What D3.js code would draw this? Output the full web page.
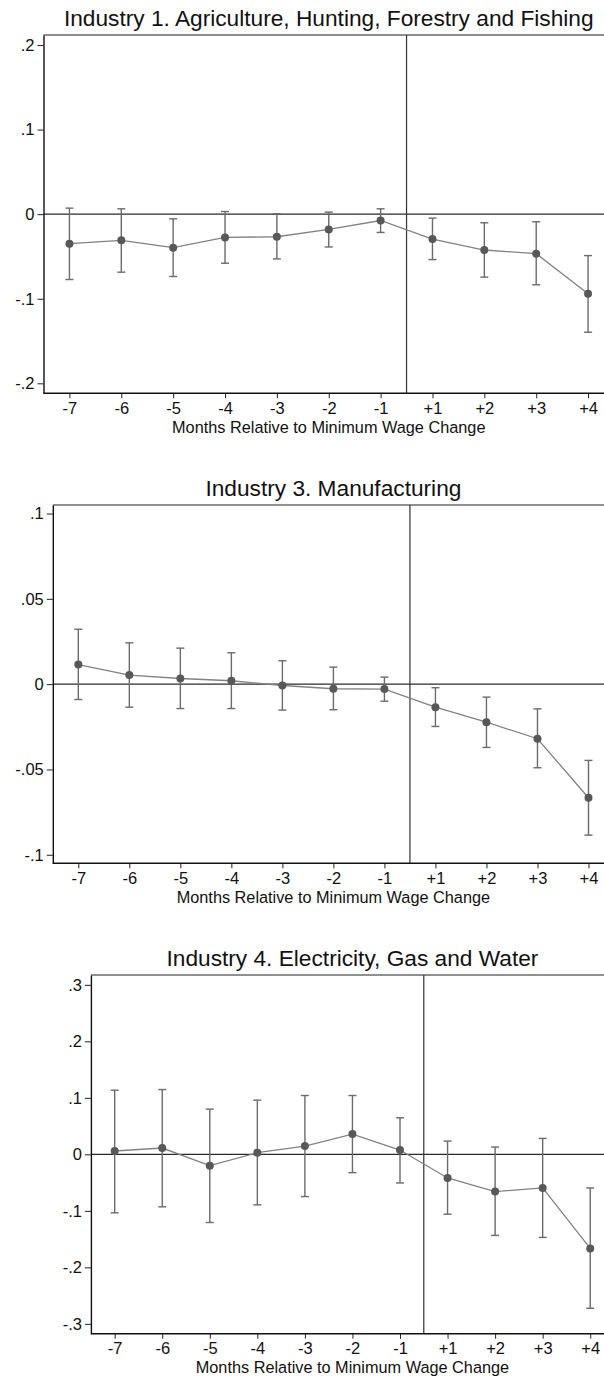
<!DOCTYPE html>
<html>
<head>
<meta charset="utf-8">
<script src="https://cdn.jsdelivr.net/npm/d3@7"></script>
<style>
  html, body { margin: 0; padding: 0; background: #fff; }
  svg { display: block; }
  text { font-family: "Liberation Sans", Arial, sans-serif; fill: #111; }
</style>
</head>
<body>
<svg id="chart" width="604" height="1378"></svg>
<script>
// ---------- data ----------
const months = ["-7", "-6", "-5", "-4", "-3", "-2", "-1", "+1", "+2", "+3", "+4"];
const xTitle = "Months Relative to Minimum Wage Change";

const titles = [
  "Industry 1. Agriculture, Hunting, Forestry and Fishing",
  "Industry 3. Manufacturing",
  "Industry 4. Electricity, Gas and Water"
];

// Industry 1
const ind1Est = [-0.0349, -0.0310, -0.0396, -0.0275, -0.0267, -0.0180, -0.0075, -0.0294, -0.0424, -0.0467, -0.0941];
const ind1Lo  = [-0.0773, -0.0686, -0.0737, -0.0580, -0.0529, -0.0388, -0.0216, -0.0537, -0.0745, -0.0835, -0.1396];
const ind1Hi  = [ 0.0071,  0.0063, -0.0055,  0.0031,  0.0004,  0.0024,  0.0063, -0.0047, -0.0102, -0.0090, -0.0490];
const ind1YTicks = [-0.2, -0.1, 0, 0.1, 0.2];
const ind1YLabels = ["-.2", "-.1", "0", ".1", ".2"];

// Industry 3
const ind3Est = [0.0115, 0.0053, 0.0033, 0.0020, -0.0008, -0.0027, -0.0029, -0.0135, -0.0223, -0.0320, -0.0666];
const ind3Lo  = [-0.0090, -0.0135, -0.0143, -0.0143, -0.0152, -0.0150, -0.0100, -0.0248, -0.0371, -0.0490, -0.0885];
const ind3Hi  = [0.0322, 0.0242, 0.0211, 0.0184, 0.0137, 0.0100, 0.0041, -0.0021, -0.0076, -0.0145, -0.0447];
const ind3YTicks = [-0.1, -0.05, 0, 0.05, 0.1];
const ind3YLabels = ["-.1", "-.05", "0", ".05", ".1"];

// Industry 4
const ind4Est = [0.0059, 0.0112, -0.0200, 0.0029, 0.0147, 0.0359, 0.0076, -0.0418, -0.0659, -0.0594, -0.1665];
const ind4Lo  = [-0.1035, -0.0929, -0.1206, -0.0894, -0.0747, -0.0324, -0.0506, -0.1059, -0.1435, -0.1470, -0.2724];
const ind4Hi  = [0.1135, 0.1147, 0.0800, 0.0959, 0.1041, 0.1041, 0.0647, 0.0235, 0.0129, 0.0282, -0.0594];
const ind4YTicks = [-0.3, -0.2, -0.1, 0, 0.1, 0.2, 0.3];
const ind4YLabels = ["-.3", "-.2", "-.1", "0", ".1", ".2", ".3"];

const yExtent = [0.2118, 0.105, 0.3174];

// ---------- layout ----------
const panels = [
  { title: titles[0], est: ind1Est, lo: ind1Lo, hi: ind1Hi, ticks: ind1YTicks, labels: ind1YLabels, ext: yExtent[0],
    left: 43.5, right: 614, top: 35, bottom: 393.3 },
  { title: titles[1], est: ind3Est, lo: ind3Lo, hi: ind3Hi, ticks: ind3YTicks, labels: ind3YLabels, ext: yExtent[1],
    left: 52.8, right: 614, top: 505, bottom: 863.3 },
  { title: titles[2], est: ind4Est, lo: ind4Lo, hi: ind4Hi, ticks: ind4YTicks, labels: ind4YLabels, ext: yExtent[2],
    left: 90.9, right: 614, top: 975, bottom: 1333.7 }
];

const svg = d3.select("#chart");
const FONT = '"Liberation Sans", Arial, sans-serif';

panels.forEach(p => {
  const g = svg.append("g");
  const x = d3.scalePoint().domain(months).range([p.left, p.right]).padding(0.5);
  const y = d3.scaleLinear().domain([-p.ext, p.ext]).range([p.bottom, p.top]);
  const step = x.step();
  const xCut = x("-1") + step / 2;

  // top border
  g.append("line")
    .attr("x1", p.left).attr("x2", p.right)
    .attr("y1", p.top).attr("y2", p.top)
    .attr("stroke", "#6a6a6a").attr("stroke-width", 1.6);

  // zero line
  g.append("line")
    .attr("x1", p.left).attr("x2", p.right)
    .attr("y1", y(0)).attr("y2", y(0))
    .attr("stroke", "#2a2a2a").attr("stroke-width", 1.2);

  // vertical event line
  g.append("line")
    .attr("x1", xCut).attr("x2", xCut)
    .attr("y1", p.top).attr("y2", p.bottom)
    .attr("stroke", "#333").attr("stroke-width", 1.2);

  // y axis
  const yAxis = d3.axisLeft(y)
    .tickValues(p.ticks)
    .tickFormat((d, i) => p.labels[i])
    .tickSize(6).tickPadding(3).tickSizeOuter(0);
  const ya = g.append("g").attr("transform", `translate(${p.left},0)`).call(yAxis);
  ya.select(".domain").attr("stroke", "#111").attr("stroke-width", 1.4);
  ya.selectAll(".tick line").attr("stroke", "#222").attr("stroke-width", 1);
  ya.selectAll(".tick text").attr("font-size", 16.5).style("font-family", FONT).attr("fill", "#111");

  // x axis
  const xAxis = d3.axisBottom(x).tickSize(5).tickPadding(4).tickSizeOuter(0);
  const xa = g.append("g").attr("transform", `translate(0,${p.bottom})`).call(xAxis);
  xa.select(".domain").attr("stroke", "#111").attr("stroke-width", 1.6)
    .attr("d", `M${p.left},0H${p.right}`);
  xa.selectAll(".tick line").attr("stroke", "#222").attr("stroke-width", 1);
  xa.selectAll(".tick text").attr("font-size", 16.5).style("font-family", FONT).attr("fill", "#111");

  const cx = (p.left + p.right) / 2;

  // x title
  g.append("text")
    .attr("x", cx).attr("y", p.bottom + 39.6)
    .attr("text-anchor", "middle")
    .attr("font-size", 16.3)
    .text(xTitle);

  // panel title
  g.append("text")
    .attr("x", cx).attr("y", p.top - 9)
    .attr("text-anchor", "middle")
    .attr("font-size", 22.7)
    .text(p.title);

  const rows = months.map((m, i) => ({ m, est: p.est[i], lo: p.lo[i], hi: p.hi[i] }));

  // error bars
  const eb = g.append("g").attr("stroke", "#6b6b6b").attr("stroke-width", 1.4).attr("fill", "none");
  rows.forEach(r => {
    const xx = x(r.m);
    eb.append("line").attr("x1", xx).attr("x2", xx).attr("y1", y(r.lo)).attr("y2", y(r.hi));
    eb.append("line").attr("x1", xx - 4).attr("x2", xx + 4).attr("y1", y(r.lo)).attr("y2", y(r.lo));
    eb.append("line").attr("x1", xx - 4).attr("x2", xx + 4).attr("y1", y(r.hi)).attr("y2", y(r.hi));
  });

  // connecting line
  g.append("path")
    .datum(rows)
    .attr("fill", "none")
    .attr("stroke", "#828282")
    .attr("stroke-width", 1.3)
    .attr("d", d3.line().x(r => x(r.m)).y(r => y(r.est)));

  // markers
  g.selectAll("circle.pt").data(rows).enter().append("circle")
    .attr("class", "pt")
    .attr("cx", r => x(r.m)).attr("cy", r => y(r.est))
    .attr("r", 4)
    .attr("fill", "#585858");
});
</script>
</body>
</html>
